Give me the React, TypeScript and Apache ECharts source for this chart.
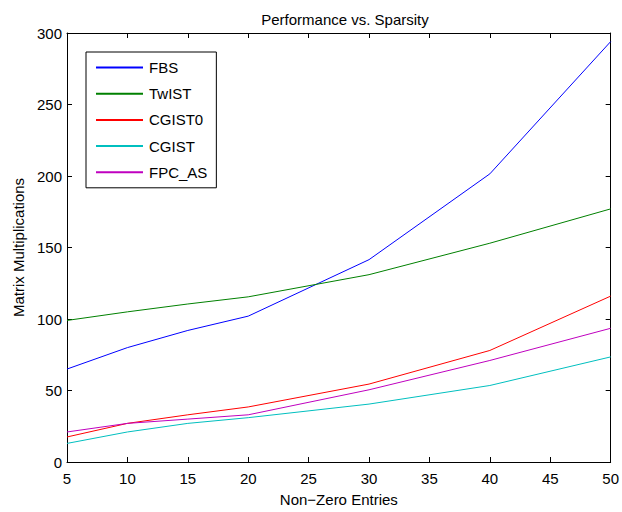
import React, { useEffect, useRef } from "react";
import * as echarts from "echarts";

const xValues = [5, 10, 15, 20, 30, 40, 50];
const seriesNames = ["FBS", "TwIST", "CGIST0", "CGIST", "FPC_AS"];
const fbs = [65, 80, 92, 102, 141.5, 201.5, 294];
const twist = [99, 105, 110.5, 115.5, 131, 153, 177];
const cgist0 = [17.5, 27, 33, 38.5, 54.5, 78, 116];
const cgist = [13, 21, 27, 31, 40.5, 53.5, 73.5];
const fpcas = [21, 27, 30, 33, 50.5, 71, 93.5];
const seriesValues = [fbs, twist, cgist0, cgist, fpcas];
const colors = ["#0000ff", "#008000", "#ff0000", "#00bfbf", "#bf00bf"];

const FONT = "'Liberation Sans', Arial, Helvetica, sans-serif";

export default function App() {
  const ref = useRef<HTMLDivElement>(null);
  useEffect(() => {
    document.body.style.margin = "0";
    const chart = echarts.init(ref.current!, null, { renderer: "svg" });
    const axisCommon = {
      axisLine: { show: true, onZero: false, lineStyle: { color: "#000", width: 1 } },
      axisTick: { show: true, inside: true, length: 5, lineStyle: { color: "#000" } },
      splitLine: { show: false },
    };
    chart.setOption({
      animation: false,
      backgroundColor: "#fff",
      textStyle: { fontFamily: FONT },
      title: {
        text: "Performance vs. Sparsity",
        left: 340,
        top: 6,
        textAlign: "center",
        textStyle: { fontFamily: FONT, fontSize: 15, lineHeight: 17, fontWeight: "normal", color: "#000" },
      },
      grid: { left: 67, right: 10, top: 33, bottom: 50, containLabel: false },
      legend: {
        orient: "vertical",
        left: 86,
        top: 52,
        padding: [8, 9, 8, 9],
        itemGap: 11.2,
        itemWidth: 47,
        itemHeight: 15,
        borderColor: "#000",
        borderWidth: 1,
        backgroundColor: "#fff",
        itemStyle: { opacity: 0 },
        textStyle: { fontFamily: FONT, fontSize: 15, lineHeight: 15, color: "#000", padding: [0, 0, 0, 1] },
        data: seriesNames,
      },
      xAxis: [
        {
          type: "value",
          min: 5,
          max: 50,
          interval: 5,
          position: "bottom",
          name: "Non\u2212Zero Entries",
          nameLocation: "middle",
          nameGap: 30,
          nameTextStyle: { fontFamily: FONT, fontSize: 15, color: "#000" },
          axisLabel: { fontFamily: FONT, fontSize: 15, color: "#000", margin: 9 },
          ...axisCommon,
        },
        {
          type: "value",
          min: 5,
          max: 50,
          interval: 5,
          position: "top",
          axisLabel: { show: false },
          ...axisCommon,
        },
      ],
      yAxis: [
        {
          type: "value",
          min: 0,
          max: 300,
          interval: 50,
          position: "left",
          name: "Matrix Multiplications",
          nameLocation: "middle",
          nameGap: 40,
          nameTextStyle: { fontFamily: FONT, fontSize: 15, color: "#000" },
          axisLabel: { fontFamily: FONT, fontSize: 15, color: "#000", margin: 5 },
          ...axisCommon,
        },
        {
          type: "value",
          min: 0,
          max: 300,
          interval: 50,
          position: "right",
          axisLabel: { show: false },
          ...axisCommon,
        },
      ],
      series: seriesNames.map((name, i) => ({
        name,
        type: "line",
        xAxisIndex: 0,
        yAxisIndex: 0,
        symbol: "none",
        color: colors[i],
        lineStyle: { color: colors[i], width: 1 },
        data: xValues.map((x, j) => [x, seriesValues[i][j]]),
      })),
    });
    return () => chart.dispose();
  }, []);
  return <div ref={ref} style={{ width: 622, height: 512 }} />;
}
